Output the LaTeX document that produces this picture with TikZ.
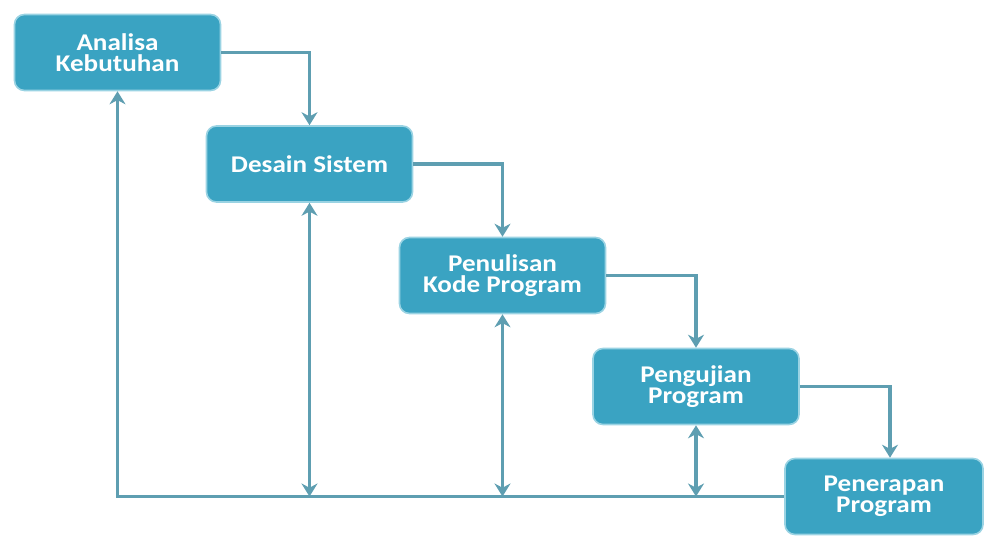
\documentclass[tikz,border=0pt]{standalone}
\usepackage{fontspec}
\setmainfont[FakeStretch=1.13]{Carlito}
\usetikzlibrary{arrows.meta}
\definecolor{boxfill}{HTML}{3AA3C2}
\definecolor{boxedge}{HTML}{9AD3E3}
\definecolor{linecol}{HTML}{5E9EB1}

\begin{document}
\begin{tikzpicture}[x=0.5pt,y=-0.5pt,
  phase/.style={draw=boxedge,line width=0.8pt,fill=boxfill,rounded corners=5pt,
    minimum width=103pt,minimum height=38pt,align=center,text=white,
    font=\bfseries\fontsize{12}{10.5}\selectfont},
  flow/.style={draw=linecol,line width=1.9pt,-{Stealth[length=6.5pt,width=8pt]}},
  both/.style={draw=linecol,line width=1.9pt,{Stealth[length=6.5pt,width=8pt]}-{Stealth[length=6.5pt,width=8pt]}}]
\useasboundingbox (0,0) rectangle (985,536);

\node[phase] (ana) at (117.5,52.5) {Analisa\\Kebutuhan};
\node[phase] (des) at (309.5,164) {Desain Sistem};
\node[phase] (pen) at (502.5,275.5) {Penulisan\\Kode Program};
\node[phase] (uji) at (696,386.5) {Pengujian\\Program};
\node[phase,minimum width=99pt] (ter) at (884,496.5) {Penerapan\\Program};

\draw[flow] (ana.east) -| (des.north);
\draw[flow] (des.east) -| (pen.north);
\draw[flow] (pen.east) -| (uji.north);
\draw[flow] (uji.east) -| ([xshift=3pt]ter.north);

\draw[flow] (ter.west) -| (ana.south);
\draw[both] (des.south) -- (des.south |- ter.west);
\draw[both] (pen.south) -- (pen.south |- ter.west);
\draw[both] (uji.south) -- (uji.south |- ter.west);
\end{tikzpicture}
\end{document}
